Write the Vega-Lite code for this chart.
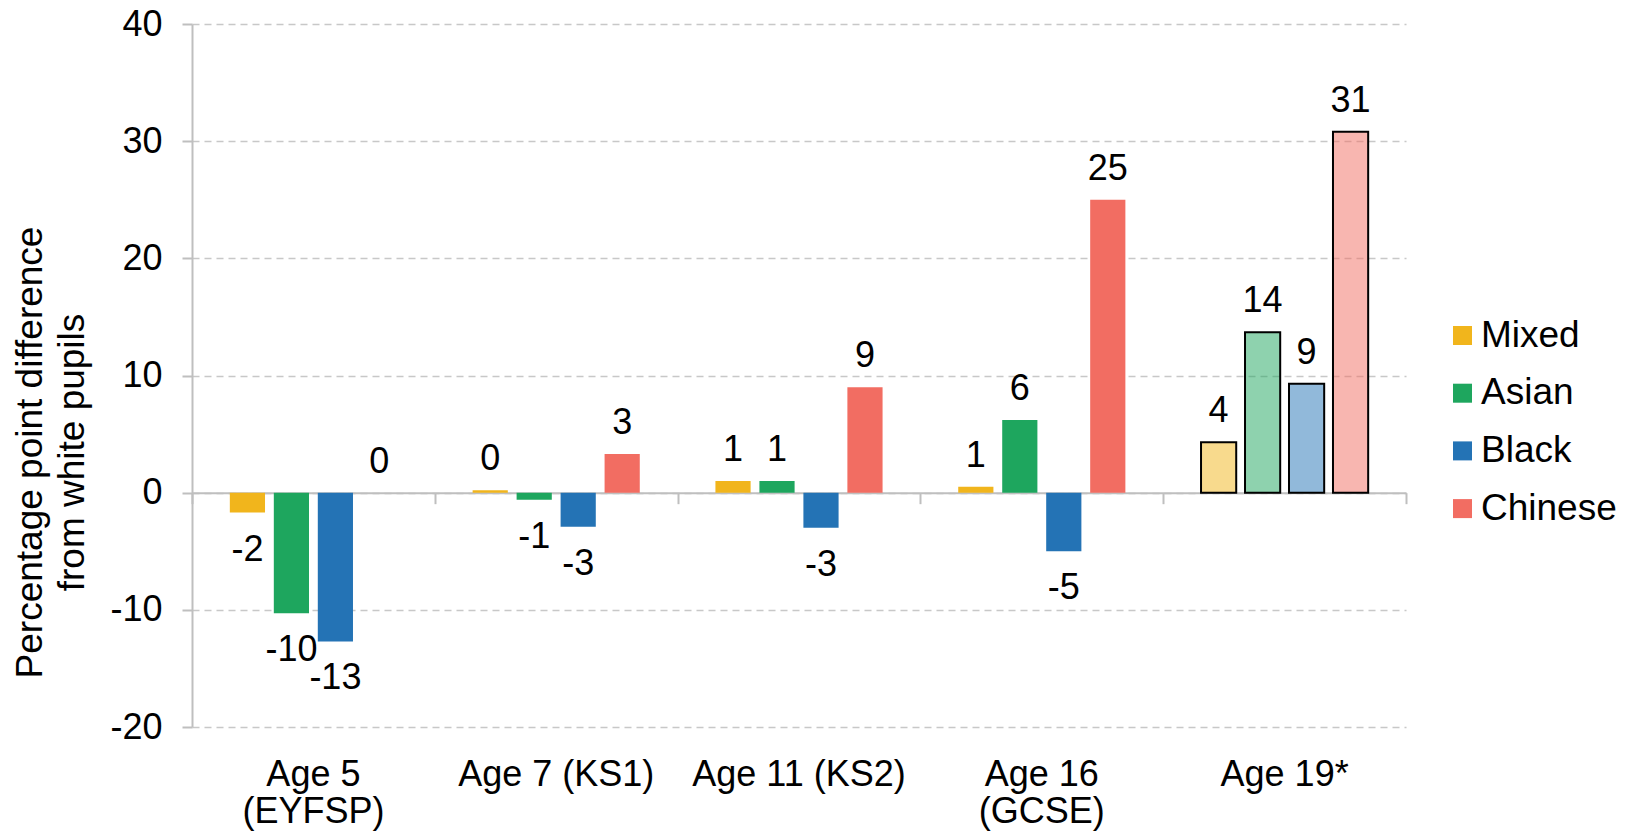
{
  "$schema": "https://vega.github.io/schema/vega-lite/v6.json",
  "width": 1214,
  "height": 703,
  "autosize": {"type": "none"},
  "padding": {"left": 192, "top": 24, "right": 224, "bottom": 109},
  "background": "white",
  "config": {
    "view": {"stroke": null},
    "font": "Liberation Sans",
    "text": {"font": "Liberation Sans", "fontSize": 36, "color": "black"}
  },
  "data": {
    "values": [
      {"age": "Age 5 (EYFSP)", "group": "Mixed", "value": -1.7, "label": "-2"},
      {"age": "Age 5 (EYFSP)", "group": "Asian", "value": -10.3, "label": "-10"},
      {"age": "Age 5 (EYFSP)", "group": "Black", "value": -12.7, "label": "-13"},
      {"age": "Age 5 (EYFSP)", "group": "Chinese", "value": 0, "label": "0"},
      {"age": "Age 7 (KS1)", "group": "Mixed", "value": 0.2, "label": "0"},
      {"age": "Age 7 (KS1)", "group": "Asian", "value": -0.6, "label": "-1"},
      {"age": "Age 7 (KS1)", "group": "Black", "value": -2.9, "label": "-3"},
      {"age": "Age 7 (KS1)", "group": "Chinese", "value": 3.3, "label": "3"},
      {"age": "Age 11 (KS2)", "group": "Mixed", "value": 1.0, "label": "1"},
      {"age": "Age 11 (KS2)", "group": "Asian", "value": 1.0, "label": "1"},
      {"age": "Age 11 (KS2)", "group": "Black", "value": -3.0, "label": "-3"},
      {"age": "Age 11 (KS2)", "group": "Chinese", "value": 9.0, "label": "9"},
      {"age": "Age 16 (GCSE)", "group": "Mixed", "value": 0.5, "label": "1"},
      {"age": "Age 16 (GCSE)", "group": "Asian", "value": 6.2, "label": "6"},
      {"age": "Age 16 (GCSE)", "group": "Black", "value": -5.0, "label": "-5"},
      {"age": "Age 16 (GCSE)", "group": "Chinese", "value": 25.0, "label": "25"},
      {"age": "Age 19*", "group": "Mixed", "value": 4.3, "label": "4"},
      {"age": "Age 19*", "group": "Asian", "value": 13.7, "label": "14"},
      {"age": "Age 19*", "group": "Black", "value": 9.3, "label": "9"},
      {"age": "Age 19*", "group": "Chinese", "value": 30.8, "label": "31"}
    ]
  },
  "encoding": {
    "xOffset": {
      "field": "group",
      "type": "nominal",
      "sort": ["Mixed", "Asian", "Black", "Chinese"],
      "scale": {"paddingInner": 0.2, "paddingOuter": 0.86}
    },
    "y": {
      "field": "value",
      "type": "quantitative",
      "scale": {"domain": [-20, 40], "nice": false, "zero": false},
      "axis": {
        "values": [-20, -10, 0, 10, 20, 30, 40],
        "labelExpr": "datum.value + ''",
        "labelFontSize": 36,
        "labelColor": "black",
        "labelFont": "Liberation Sans",
        "labelPadding": 20,
        "tickSize": 10,
        "tickColor": "#BFBFBF",
        "tickWidth": 2,
        "domainColor": "#BFBFBF",
        "domainWidth": 2,
        "grid": true,
        "gridColor": "#C8C8C8",
        "gridDash": [7, 5],
        "gridWidth": 1.5,
        "title": ["Percentage point difference", "from white pupils"],
        "titleFontSize": 37,
        "titleFont": "Liberation Sans",
        "titleFontWeight": "normal",
        "titleColor": "black",
        "titleLineHeight": 42,
        "titlePadding": 18,
        "titleY": 428
      }
    }
  },
  "layer": [
    {
      "mark": {"type": "bar"},
      "encoding": {
        "x": {
          "field": "age",
          "type": "nominal",
          "sort": null,
          "scale": {"paddingInner": 0, "paddingOuter": 0},
          "axis": {
            "orient": "bottom",
            "title": null,
            "labelAngle": 0,
            "labelExpr": "datum.value == 'Age 5 (EYFSP)' ? ['Age 5', '(EYFSP)'] : datum.value == 'Age 16 (GCSE)' ? ['Age 16', '(GCSE)'] : datum.value",
            "labelFontSize": 36,
            "labelFont": "Liberation Sans",
            "labelColor": "black",
            "labelLineHeight": 37,
            "labelPadding": 30,
            "labelLimit": 0,
            "ticks": false,
            "domain": false,
            "grid": false
          }
        },
        "color": {
          "field": "group",
          "type": "nominal",
          "sort": ["Mixed", "Asian", "Black", "Chinese"],
          "scale": {
            "domain": ["Mixed", "Asian", "Black", "Chinese"],
            "range": ["#F1B51C", "#1EA65E", "#2473B5", "#F26D62"]
          },
          "legend": {
            "title": null,
            "orient": "none",
            "legendX": 1252,
            "legendY": 293,
            "symbolType": "square",
            "symbolSize": 361,
            "symbolStrokeWidth": 0,
            "symbolOpacity": 1,
            "labelFontSize": 37,
            "labelFont": "Liberation Sans",
            "labelColor": "black",
            "labelOffset": 0,
            "rowPadding": 19.7
          }
        },
        "fillOpacity": {
          "condition": {"test": "datum.age == 'Age 19*'", "value": 0.5},
          "value": 1
        },
        "stroke": {
          "condition": {"test": "datum.age == 'Age 19*'", "value": "#000000"},
          "value": null
        },
        "strokeWidth": {
          "condition": {"test": "datum.age == 'Age 19*'", "value": 2},
          "value": 0
        }
      }
    },
    {
      "transform": [{"filter": "datum.value >= 0"}],
      "mark": {"type": "text", "baseline": "alphabetic", "dy": -20, "fontSize": 36},
      "encoding": {
        "x": {
          "field": "age",
          "type": "nominal",
          "sort": null,
          "axis": {
            "orient": "bottom",
            "title": null,
            "labels": false,
            "ticks": true,
            "tickBand": "extent",
            "tickSize": 11,
            "tickColor": "#BFBFBF",
            "tickWidth": 2,
            "domain": true,
            "domainColor": "#BFBFBF",
            "domainWidth": 2,
            "grid": false,
            "offset": -234.33
          }
        },
        "text": {"field": "label", "type": "nominal"}
      }
    },
    {
      "transform": [{"filter": "datum.value < 0"}],
      "mark": {"type": "text", "baseline": "top", "dy": 20, "fontSize": 36},
      "encoding": {
        "x": {"field": "age", "type": "nominal", "sort": null, "axis": null},
        "text": {"field": "label", "type": "nominal"}
      }
    }
  ],
  "resolve": {"axis": {"x": "independent"}}
}
